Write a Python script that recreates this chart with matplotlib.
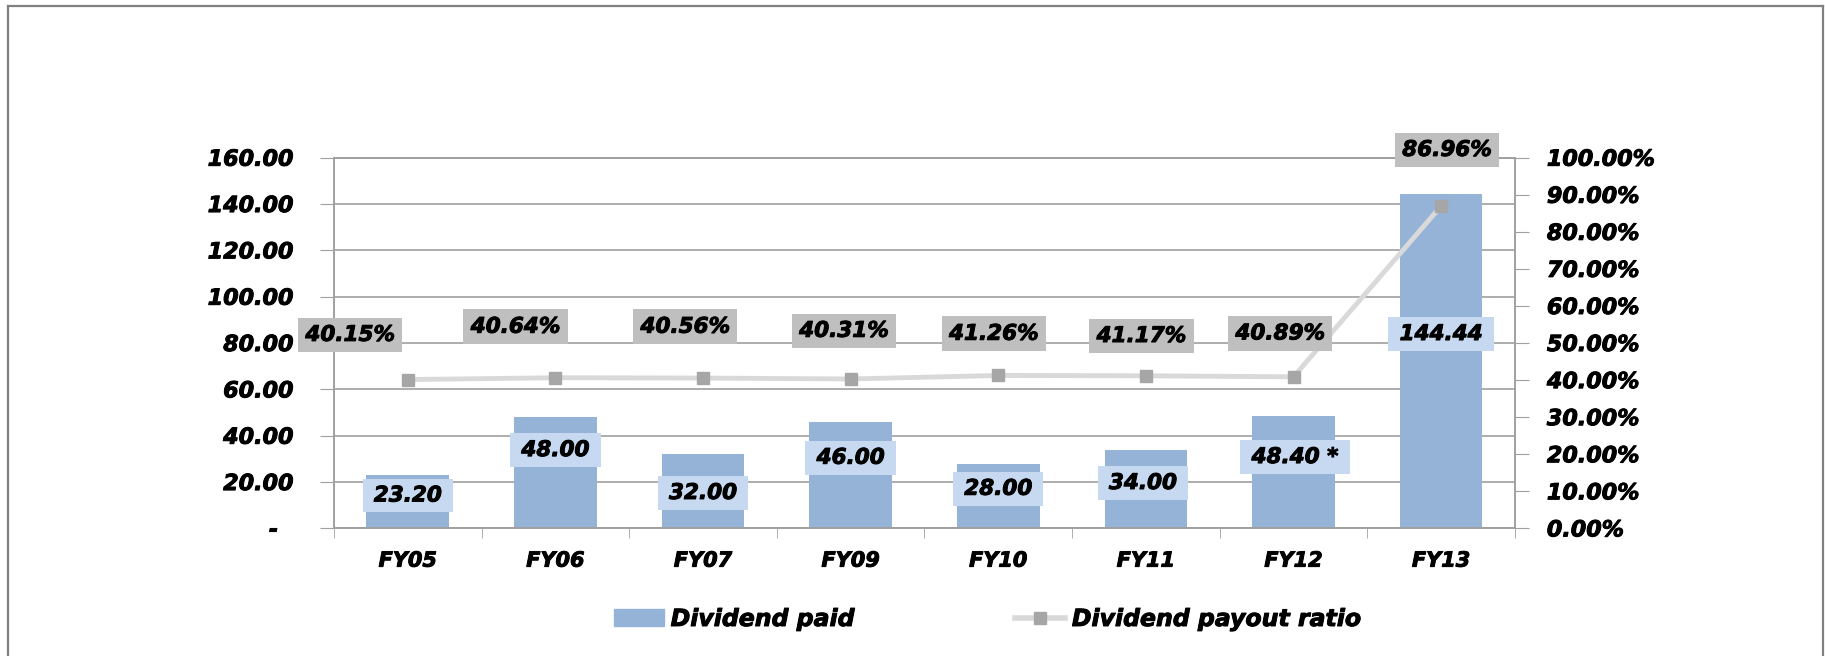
import numpy as np
import matplotlib
matplotlib.use('Agg')
import matplotlib.pyplot as plt
import matplotlib.patheffects as pe
from matplotlib.lines import Line2D
from matplotlib.patches import Patch

# data
years = ['FY05', 'FY06', 'FY07', 'FY09', 'FY10', 'FY11', 'FY12', 'FY13']
dividend_paid = [23.20, 48.00, 32.00, 46.00, 28.00, 34.00, 48.40, 144.44]
payout_ratio = [40.15, 40.64, 40.56, 40.31, 41.26, 41.17, 40.89, 86.96]
paid_labels = ['23.20', '48.00', '32.00', '46.00', '28.00', '34.00', '48.40 *', '144.44']

# label placement (as moved by hand in the original)
ratio_lbl_dx = [-0.39, -0.27, -0.12, -0.045, -0.03, -0.03, -0.09, 0.04]
ratio_lbl_y = [52.2, 54.4, 54.4, 53.3, 52.5, 51.9, 52.6, 102.1]
paid_lbl_dx = [0, 0, 0, 0, 0, -0.02, 0.01, 0]
paid_lbl_y = [14.2, 33.8, 15.3, 30.5, 17.1, 19.6, 30.8, 83.9]

bar_col = '#95B3D7'
blue_box = '#C6D9F1'
gray_box = '#BFBFBF'
line_col = '#D9D9D9'
marker_col = '#A6A6A6'
axis_col = '#A0A0A0'
fs = 16
font = dict(family='DejaVu Sans', weight='bold', style='oblique')
heavy = [pe.withStroke(linewidth=0.7, foreground='black')]

fig = plt.figure(figsize=(18.25, 6.56), dpi=100)
ax = fig.add_axes([0.183, 0.1945, 0.6471, 0.5651])
x = np.arange(len(years))

ax.bar(x, dividend_paid, width=0.56, color=bar_col, zorder=2)
ax.set_xlim(-0.5, len(years) - 0.5)
ax.set_ylim(0, 160)
ax.set_yticks(np.arange(0, 161, 20))
ax.set_yticklabels(['-  '] + ['%.2f' % v for v in np.arange(20, 161, 20)], fontsize=fs, **font)
ax.yaxis.grid(True, color=axis_col, lw=1.2, zorder=0)
ax.set_axisbelow(True)
ax.tick_params(axis='y', length=10, color=axis_col, pad=19)

ax.set_xticks(x)
ax.set_xticklabels(years, fontsize=15, **font)
ax.set_xticks(np.arange(-0.5, len(years)), minor=True)
ax.tick_params(axis='x', which='major', length=0, pad=16)
ax.tick_params(axis='x', which='minor', length=7, color=axis_col)

for s in ['left', 'bottom', 'right', 'top']:
    ax.spines[s].set_color(axis_col)
    ax.spines[s].set_linewidth(1.2)

ax2 = ax.twinx()
ax2.plot(x, payout_ratio, color=line_col, lw=3.5, marker='s', ms=8,
         mfc=marker_col, mec=marker_col, zorder=3)
ax2.set_ylim(0, 100)
ax2.set_yticks(np.arange(0, 101, 10))
ax2.set_yticklabels(['%.2f%%' % v for v in np.arange(0, 101, 10)], fontsize=fs, **font)
ax2.tick_params(axis='y', length=10, color=axis_col, pad=13)
for s in ['left', 'bottom', 'right', 'top']:
    ax2.spines[s].set_color(axis_col)
    ax2.spines[s].set_linewidth(1.2)

for t in ax.get_yticklabels() + ax.get_xticklabels() + ax2.get_yticklabels():
    t.set_path_effects(heavy)

# value labels
for i in range(len(years)):
    ax2.text(x[i] + ratio_lbl_dx[i], ratio_lbl_y[i], '%.2f%%' % payout_ratio[i],
             ha='center', va='center', fontsize=15.5, **font, clip_on=False, zorder=6,
             path_effects=heavy,
             bbox=dict(boxstyle='square,pad=0.34', fc=gray_box, ec='none'))
    ax2.text(x[i] + paid_lbl_dx[i], paid_lbl_y[i], '\u2009%s\u2009' % paid_labels[i],
             transform=ax.transData, ha='center', va='center', fontsize=15.5, **font,
             clip_on=False, zorder=6, path_effects=heavy,
             bbox=dict(boxstyle='square,pad=0.32', fc=blue_box, ec='none'))

# legend
handles = [Patch(color=bar_col),
           Line2D([], [], color=line_col, lw=4, marker='s', ms=8, mfc=marker_col, mec=marker_col)]
leg = fig.legend(handles, ['Dividend paid', 'Dividend payout ratio'], ncol=2,
                 loc='center left', bbox_to_anchor=(614 / 1825, 1 - 619 / 656),
                 frameon=False, borderpad=0, borderaxespad=0, handlelength=2.1,
                 handletextpad=0.3, columnspacing=6.8,
                 prop=dict(family='DejaVu Sans', weight='bold', style='oblique', size=17))
for t in leg.get_texts():
    t.set_path_effects(heavy)

# outer frame
fw = 1.6
fig.add_artist(Line2D([8 / 1825, 1823 / 1825], [1 - 5.5 / 656, 1 - 5.5 / 656], color='#808080', lw=fw))
fig.add_artist(Line2D([8 / 1825, 8 / 1825], [0, 1 - 5.5 / 656], color='#808080', lw=fw))
fig.add_artist(Line2D([1823 / 1825, 1823 / 1825], [0, 1 - 5.5 / 656], color='#808080', lw=fw))

fig.savefig('out.png', dpi=100)
